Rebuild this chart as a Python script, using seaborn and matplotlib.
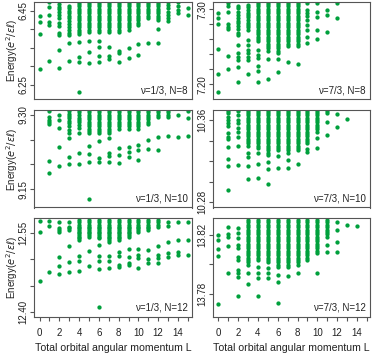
import matplotlib
matplotlib.use("Agg")
import matplotlib.pyplot as plt
import seaborn as sns
import pandas as pd

# energies, grouped by total angular momentum L.
# the dense upper bands are kept as shared lists and cut per column.

band_13_n8 = [6.4752, 6.4689, 6.4626, 6.4563, 6.4500, 6.4437, 6.4374, 6.4311,
              6.4248, 6.4185, 6.4122, 6.4059, 6.3995, 6.3932, 6.3869]
e_13_n8 = {
    0: [6.4365, 6.4203, 6.3887, 6.2932],
    1: [6.4734, 6.4617, 6.4392, 6.4212, 6.4122, 6.3149],
    2: [6.4689, 6.4617, 6.4545, 6.4482, 6.4392, 6.4302, 6.4167, 6.4095,
        6.3896, 6.3842, 6.3446, 6.2959],
    3: [6.4635, 6.4572, 6.4509, 6.4437, 6.4365, 6.4302, 6.4239, 6.4149,
        6.4077, 6.3986, 6.3914, 6.3851, 6.3644, 6.3139],
    4: band_13_n8 + [6.3653, 6.3266, 6.3131, 6.2320],
    5: band_13_n8[:14] + [6.3698, 6.3383, 6.3086],
    6: band_13_n8[:14] + [6.3680, 6.3518, 6.3284, 6.3113],
    7: band_13_n8[:14] + [6.3527, 6.3275, 6.3203],
    8: band_13_n8[:14] + [6.3419, 6.3356, 6.3131],
    9: band_13_n8[:13] + [6.3491, 6.3221],
    10: band_13_n8[:11] + [6.3608, 6.3311],
    11: band_13_n8[:8] + [6.3626],
    12: band_13_n8[:9] + [6.4013, 6.3626],
    13: [6.4752, 6.4662, 6.4572, 6.4482, 6.4392, 6.4302, 6.4239],
    14: [6.4752, 6.4635, 6.4527, 6.4437],
    15: [6.4572, 6.4392],
}

band_73_n8 = [7.3102, 7.3071, 7.3040, 7.3009, 7.2978, 7.2947, 7.2916, 7.2885,
              7.2853, 7.2822, 7.2791, 7.2760, 7.2729, 7.2698, 7.2667, 7.2636,
              7.2605, 7.2574, 7.2543, 7.2512, 7.2481, 7.2449, 7.2418]
e_73_n8 = {
    0: [7.2956, 7.2880, 7.2805, 7.2472, 7.2139, 7.1903],
    1: [7.3080, 7.3049, 7.2969, 7.2800, 7.2769, 7.2738, 7.2378, 7.2201],
    2: [7.3049, 7.3013, 7.2969, 7.2925, 7.2880, 7.2849, 7.2814, 7.2778,
        7.2734, 7.2689, 7.2658, 7.2525, 7.2414, 7.2369, 7.2325, 7.2236, 7.2036],
    3: [7.3058, 7.3027, 7.2991, 7.2956, 7.2925, 7.2894, 7.2858, 7.2822,
        7.2791, 7.2760, 7.2725, 7.2592, 7.2525, 7.2458, 7.2414, 7.2369,
        7.2325, 7.2139],
    4: band_73_n8[:18] + [7.2458, 7.2392, 7.2347, 7.2250, 7.2179, 7.2036],
    5: band_73_n8[:22] + [7.2334, 7.2068],
    6: band_73_n8 + [7.2343, 7.2165],
    7: band_73_n8[:20] + [7.2303],
    8: band_73_n8[:20] + [7.2276],
    9: [7.3080, 7.2991, 7.2947, 7.2911, 7.2858, 7.2791, 7.2725, 7.2636, 7.2547],
    10: [7.3080, 7.2969, 7.2902, 7.2725, 7.2600],
    11: [7.2991, 7.2925, 7.2702],
    12: [7.3080, 7.2880],
}

band_13_n10 = [9.3101, 9.3054, 9.3007, 9.2960, 9.2912, 9.2865, 9.2818, 9.2770,
               9.2723, 9.2676, 9.2629]
e_13_n10 = {
    1: [9.3088, 9.2966, 9.2899, 9.2865, 9.2811, 9.2069, 9.1832],
    2: [9.3007, 9.2899, 9.2744, 9.2359, 9.1974],
    3: [9.3081, 9.3027, 9.2980, 9.2933, 9.2879, 9.2831, 9.2784, 9.2696,
        9.2629, 9.2528, 9.2156, 9.2001],
    4: [9.3101, 9.3054, 9.3000, 9.2946, 9.2899, 9.2852, 9.2798, 9.2744,
        9.2629, 9.2237, 9.2001],
    5: band_13_n10 + [9.2372, 9.2204, 9.2055, 9.1292],
    6: band_13_n10 + [9.2474, 9.2123, 9.2055],
    7: band_13_n10 + [9.2528, 9.2224, 9.2177, 9.2042],
    8: band_13_n10[:9] + [9.2325, 9.2190, 9.2021],
    9: band_13_n10[:9] + [9.2359, 9.2258, 9.2156],
    10: band_13_n10[:9] + [9.2393, 9.2291, 9.2089],
    11: band_13_n10[:7] + [9.2494, 9.2305],
    12: band_13_n10[:4] + [9.2561, 9.2291],
    13: band_13_n10[:4] + [9.2582],
    14: [9.3000, 9.2548],
    15: [9.3081, 9.2933, 9.2582],
}

band_73_n10 = [10.3691, 10.3668, 10.3646, 10.3623, 10.3600, 10.3577, 10.3555,
               10.3532, 10.3509, 10.3486, 10.3464, 10.3441, 10.3418, 10.3395,
               10.3373, 10.3350, 10.3327, 10.3304, 10.3282, 10.3259]
e_73_n10 = {
    1: [10.3691, 10.3665, 10.3633, 10.3600, 10.3568, 10.3545, 10.3470,
        10.3438, 10.3412, 10.3340, 10.3220, 10.3152, 10.2918],
    2: [10.3691, 10.3649, 10.3600, 10.3568, 10.3519, 10.3486, 10.3438,
        10.3350, 10.3161],
    3: band_73_n10[:16] + [10.3275, 10.3243, 10.3152, 10.3025],
    4: band_73_n10[:17] + [10.3275, 10.3171, 10.3038],
    5: band_73_n10 + [10.3187, 10.3122, 10.2976],
    6: band_73_n10[:18] + [10.3252, 10.3129],
    7: band_73_n10[:19] + [10.3210, 10.3129],
    8: band_73_n10[:18] + [10.3168],
    9: band_73_n10[:15] + [10.3317, 10.3291],
    10: band_73_n10[:10] + [10.3421, 10.3324],
    11: [10.3691, 10.3665, 10.3577, 10.3454],
    12: [10.3659, 10.3535],
    13: [10.3607],
}

band_13_n12 = [12.5745, 12.5700, 12.5650, 12.5618, 12.5587, 12.5555, 12.5524,
               12.5492, 12.5461, 12.5429, 12.5398, 12.5366, 12.5334, 12.5303]
e_13_n12 = {
    0: [12.5726, 12.5524, 12.4596],
    1: [12.5726, 12.5631, 12.4754],
    2: [12.5700, 12.5587, 12.5555, 12.5524, 12.5050, 12.4874, 12.4716],
    3: [12.5700, 12.5618, 12.5587, 12.5555, 12.5259, 12.4956, 12.4754],
    4: band_13_n12[:12] + [12.5063, 12.4968, 12.4785],
    5: band_13_n12[:10] + [12.5164, 12.4874],
    6: band_13_n12[:11] + [12.5271, 12.5063, 12.4968, 12.4811, 12.4104],
    7: band_13_n12[:13] + [12.5063, 12.4968, 12.4830],
    8: band_13_n12[:12] + [12.5145, 12.5063, 12.4893, 12.4849],
    9: band_13_n12[:10] + [12.5196, 12.5050, 12.4924, 12.4893],
    10: band_13_n12[:7] + [12.5196, 12.5082, 12.5019, 12.4830],
    11: band_13_n12[:6] + [12.5177, 12.5006, 12.4924],
    12: band_13_n12[:4] + [12.5259, 12.5082, 12.5032, 12.4924],
    13: [12.5700, 12.5631, 12.5334, 12.5126, 12.5050],
    14: [12.5700, 12.5366, 12.5145, 12.5082],
    15: [12.5700, 12.5366, 12.5082],
}

band_73_n12 = [13.8302, 13.8286, 13.8268, 13.8252, 13.8236, 13.8220, 13.8205,
               13.8189, 13.8173, 13.8157, 13.8141, 13.8125, 13.8110, 13.8094,
               13.8078, 13.8062, 13.8046, 13.8030, 13.8015, 13.7999, 13.7983]
e_73_n12 = {
    0: [13.8200, 13.8166, 13.8105, 13.8060, 13.7732],
    1: [13.8256, 13.8205, 13.8189, 13.8125, 13.7940],
    2: [13.8250, 13.8211, 13.8182, 13.8132, 13.8114, 13.8053, 13.8030,
        13.7963, 13.7940, 13.7918, 13.7789],
    3: band_73_n12[:20] + [13.7945, 13.7868],
    4: band_73_n12[:18] + [13.7985, 13.7940, 13.7906, 13.7789],
    5: band_73_n12[:19] + [13.7974, 13.7940, 13.7906],
    6: band_73_n12 + [13.7929, 13.7884, 13.7741],
    7: band_73_n12 + [13.7924],
    8: band_73_n12[:20] + [13.7940],
    9: band_73_n12[:18],
    10: band_73_n12[:14] + [13.8076, 13.7945],
    11: band_73_n12[:8] + [13.8132, 13.8087],
    12: [13.8286, 13.8234, 13.8155, 13.8087],
    13: [13.8268],
    14: [13.8261],
}

labels = ["ν=1/3, N=8", "ν=7/3, N=8", "ν=1/3, N=10",
          "ν=7/3, N=10", "ν=1/3, N=12", "ν=7/3, N=12"]
spectra = [e_13_n8, e_73_n8, e_13_n10, e_73_n10, e_13_n12, e_73_n12]
ylims = [(6.212, 6.4735), (7.1805, 7.3093), (9.113, 9.3094),
         (10.2748, 10.3694), (12.3915, 12.578), (13.7646, 13.8315)]
yticks = [[6.25, 6.30, 6.35, 6.40, 6.45],
          [7.20, 7.22, 7.24, 7.26, 7.28, 7.30],
          [9.15, 9.20, 9.25, 9.30],
          [10.28, 10.30, 10.32, 10.34, 10.36],
          [12.40, 12.45, 12.50, 12.55],
          [13.78, 13.80, 13.82]]
ytick_labels = [["6.25", "", "", "", "6.45"],
                ["7.20", "", "", "", "", "7.30"],
                ["9.15", "", "", "9.30"],
                ["10.28", "", "", "", "10.36"],
                ["12.40", "", "", "12.55"],
                ["13.78", "", "13.82"]]
L_ticks = list(range(16))
L_labels = [str(v) if v % 2 == 0 else "" for v in L_ticks]

sns.set_theme(style="ticks")
plt.rcParams["font.family"] = ["Liberation Sans", "DejaVu Sans"]
plt.rcParams["mathtext.fontset"] = "dejavusans"

green = "#00a03c"
edge = "#555555"
W, H = 374, 354
col_x = [(34.3, 191.7), (213.5, 369.5)]
row_y = [(2.3, 99.0), (110.3, 207.5), (218.0, 316.7)]
xlims = [(-0.53, 15.39), (-0.50, 15.28)]

fig = plt.figure(figsize=(W / 100, H / 100), dpi=100)

for i, spec in enumerate(spectra):
    r, c = divmod(i, 2)
    x0, x1 = col_x[c]
    y0, y1 = row_y[r]
    ax = fig.add_axes([x0 / W, 1 - y1 / H, (x1 - x0) / W, (y1 - y0) / H])
    df = pd.DataFrame([(L, e) for L, es in spec.items() for e in es],
                      columns=["L", "E"])
    sns.scatterplot(data=df, x="L", y="E", ax=ax, color=green, s=9.5,
                    linewidth=0, legend=False)
    ax.set_xlim(*xlims[c])
    ax.set_ylim(*ylims[i])
    ax.set_xlabel("")
    ax.set_ylabel("")
    for sp in ax.spines.values():
        sp.set_visible(True)
        sp.set_color(edge)
        sp.set_linewidth(0.8)
    ax.set_yticks(yticks[i])
    ax.set_yticklabels(ytick_labels[i], rotation=90, va="center")
    ax.tick_params(axis="y", direction="out", length=3, width=0.8,
                   color=edge, labelsize=7, pad=1.5, labelcolor="#222222")
    if r == 2:
        ax.set_xticks(L_ticks)
        ax.set_xticklabels(L_labels)
        ax.tick_params(axis="x", direction="out", length=3, width=0.8,
                       color=edge, labelsize=7, pad=5, labelcolor="#222222")
        fig.text((x0 + x1) / 2 / W, 1 - 348.3 / H,
                 "Total orbital angular momentum L", ha="center",
                 va="center", fontsize=7.6, color="#222222")
    else:
        ax.set_xticks([])
    ax.text(0.975, 0.06, labels[i], transform=ax.transAxes, ha="right",
            va="baseline", fontsize=7, color="#222222")
    if c == 0:
        fig.text(11.7 / W, 1 - (y0 + y1) / 2 / H, r"Energy($e^2/\epsilon\ell$)",
                 rotation=90, ha="center", va="center", fontsize=7.1,
                 color="#222222")

fig.savefig("out.png", dpi=100)
